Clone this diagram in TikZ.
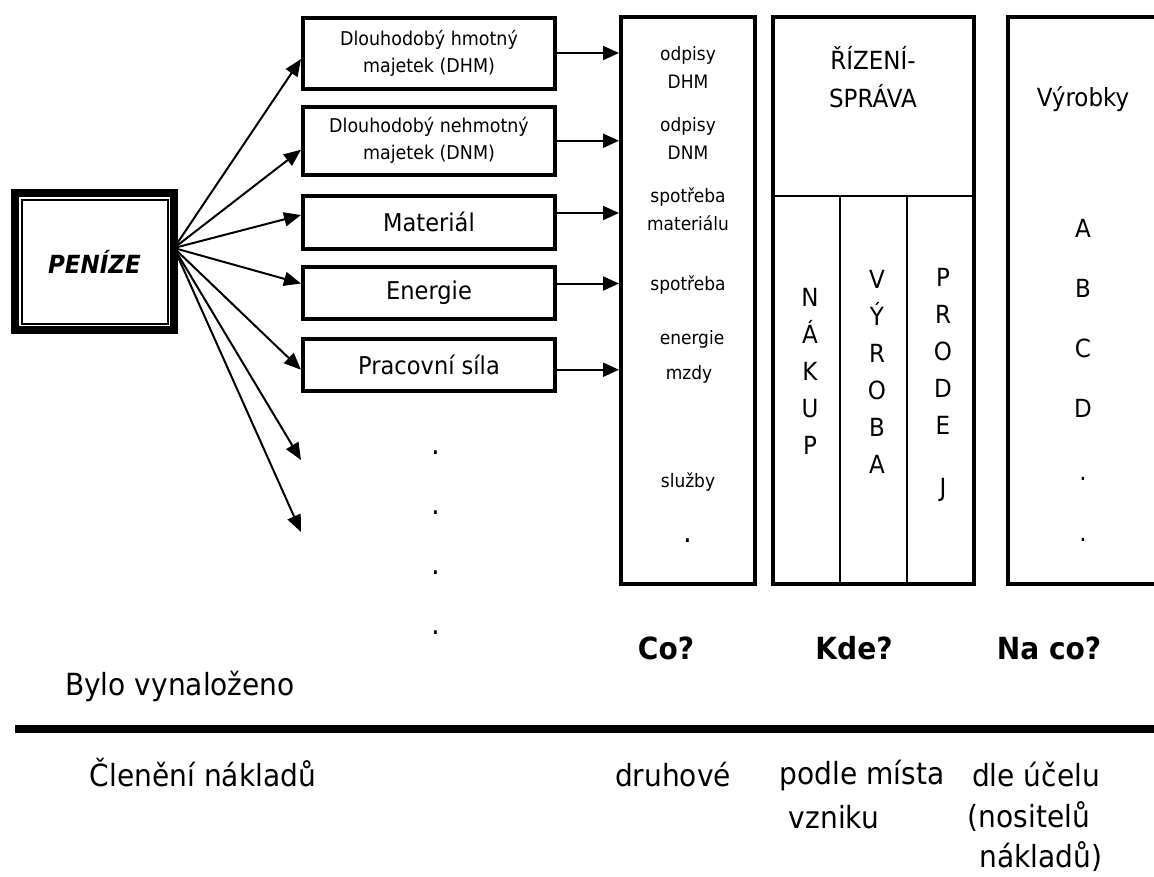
\documentclass[tikz,border=0pt]{standalone}
\usepackage{fontspec}
\setmainfont{DejaVu Sans}[FakeStretch=0.92]
\usetikzlibrary{arrows.meta}
\newcommand{\fs}[1]{\fontsize{#1}{#1}\selectfont}
\begin{document}
\begin{tikzpicture}[x=1pt,y=-1pt,
  box/.style={draw, line width=4pt, minimum width=252pt, inner sep=0pt, align=center, font=\fontsize{24.5}{27}\selectfont},
  sbox/.style={box, font=\fontsize{19}{27}\selectfont},
  col/.style={draw, line width=4pt, inner sep=0pt, minimum height=567pt},
  arr/.style={line width=2pt, -{Triangle[length=17pt,width=14pt]}},
  arrc/.style={line width=2pt, -{Triangle[length=16pt,width=14pt]}},
  thinl/.style={line width=1.5pt},
  ctext/.style={inner sep=0pt, align=center, font=\fontsize{18.5}{28}\selectfont},
  vtext/.style={inner sep=0pt, align=center, font=\fontsize{25}{37}\selectfont},
  bot/.style={inner sep=0pt, align=center, font=\fontsize{30.5}{40}\selectfont},
  botb/.style={inner sep=0pt, font=\bfseries\fontsize{30.5}{34}\selectfont},
  dotf/.style={inner sep=0pt, font=\fs{30}}
]
\useasboundingbox (0,0) rectangle (1154,876);

% PENIZE
\node[draw, line width=8pt, minimum width=159pt, minimum height=137pt, inner sep=0pt,
      font=\bfseries\itshape\fontsize{25}{27}\selectfont] (pen) at (94.5,261.5) {PENÍZE};
\draw[line width=2pt] (21.5,199.5) rectangle (167.5,323.5);
\coordinate (src) at (174,248);

% resource boxes
\node[sbox, minimum height=71pt] (b1) at (429,53) {Dlouhodobý hmotný\\majetek (DHM)};
\node[sbox, minimum height=68.5pt] (b2) at (429,140.75) {Dlouhodobý nehmotný\\majetek (DNM)};
\node[box, minimum height=53pt] (b3) at (429,222) {Materiál};
\node[box, minimum height=52pt] (b4) at (429,292.5) {Energie};
\node[box, minimum height=52.5pt] (b5) at (429,364.75) {Pracovní síla};
\coordinate (f1) at (301,460);
\coordinate (f2) at (301,532);

% arrows from PENIZE
\path ([yshift=-6pt]b1.west) coordinate (i1);
\path ([yshift=-9pt]b2.west) coordinate (i2);
\path ([yshift=7pt]b3.west) coordinate (i3);
\path ([yshift=9pt]b4.west) coordinate (i4);
\path ([yshift=-5pt]b5.west) coordinate (i5);
\foreach \t in {i1,i2,i3,i4,i5,f1,f2} \draw[arr] (src) -- (\t);

% columns
\node[col, minimum width=134pt] (c1) at (688,300.5) {};
\node[col, minimum width=201pt] (c2) at (873.5,300.5) {};
\node[col, minimum width=154pt] (c3) at (1085,300.5) {};

% arrows to column 1
\path (b1.east) coordinate (o1);
\path (b2.east) coordinate (o2);
\path ([yshift=9pt]b3.east) coordinate (o3);
\path ([yshift=9pt]b4.east) coordinate (o4);
\path ([yshift=-5pt]b5.east) coordinate (o5);
\foreach \o in {o1,o2,o3,o4,o5} \draw[arrc] (\o) -- (\o -| c1.west);

% column 1 texts
\node[ctext] (t1) at (688,67) {odpisy\\DHM};
\node[ctext] (t2) at (688,138.5) {odpisy\\DNM};
\node[ctext] (t3) at (688,209) {spotřeba\\materiálu};
\node[ctext] (t4) at (688,285) {spotřeba};
\node[ctext] (t5) at (692,339) {energie};
\node[ctext] (t6) at (689,374) {mzdy};
\node[ctext] (t7) at (688,482) {služby};
\node[dotf] (t8) at (688,541) {.};

% column 2
\draw[thinl] (773,196) -- (974,196);
\draw[thinl] (840,196) -- (840,584);
\draw[thinl] (907,196) -- (907,584);
\node[vtext, font=\fontsize{25}{38}\selectfont] (riz) at (873,77) {ŘÍZENÍ-\\SPRÁVA};
\node[vtext, font=\fontsize{25}{37}\selectfont] (nak) at (810,371) {N\\Á\\K\\U\\P};
\node[vtext] (vyr) at (877,372) {V\\Ý\\R\\O\\B\\A};
\node[vtext] (prod) at (943,385) {P\\R\\O\\D\\E\\[25pt]J};

% column 3
\node[vtext] (vyrb) at (1083,99) {Výrobky};
\node[vtext, font=\fontsize{25}{60}\selectfont] (abcd) at (1083,318) {A\\B\\C\\D};
\node[dotf, align=center, font=\fontsize{25}{61}\selectfont] (dots3) at (1083,509) {.\\.};

% dots under boxes
\node[dotf] (d1) at (436,453) {.};
\node[dotf] (d2) at (436,513) {.};
\node[dotf] (d3) at (436,573) {.};
\node[dotf] (d4) at (436,633) {.};

% bottom part
\draw[line width=8pt] (15,729) -- (1154,729);
\node[bot] (bylo) at (180,686) {Bylo vynaloženo};
\node[bot] (clen) at (203,773) {Členění nákladů};
\node[botb] (co) at (666,648) {Co?};
\node[botb] (kde) at (854,648) {Kde?};
\node[botb] (naco) at (1049,648) {Na co?};
\node[bot] (druh) at (673,775) {druhové};
\node[bot] (podle) at (862,775) {podle místa};
\node[bot] (vzn) at (834,817) {vzniku};
\node[bot] (dle) at (1036,775) {dle účelu};
\node[bot] (nos) at (1029,817) {(nositelů};
\node[bot] (nakl) at (1041,857) {nákladů)};
\end{tikzpicture}
\end{document}
